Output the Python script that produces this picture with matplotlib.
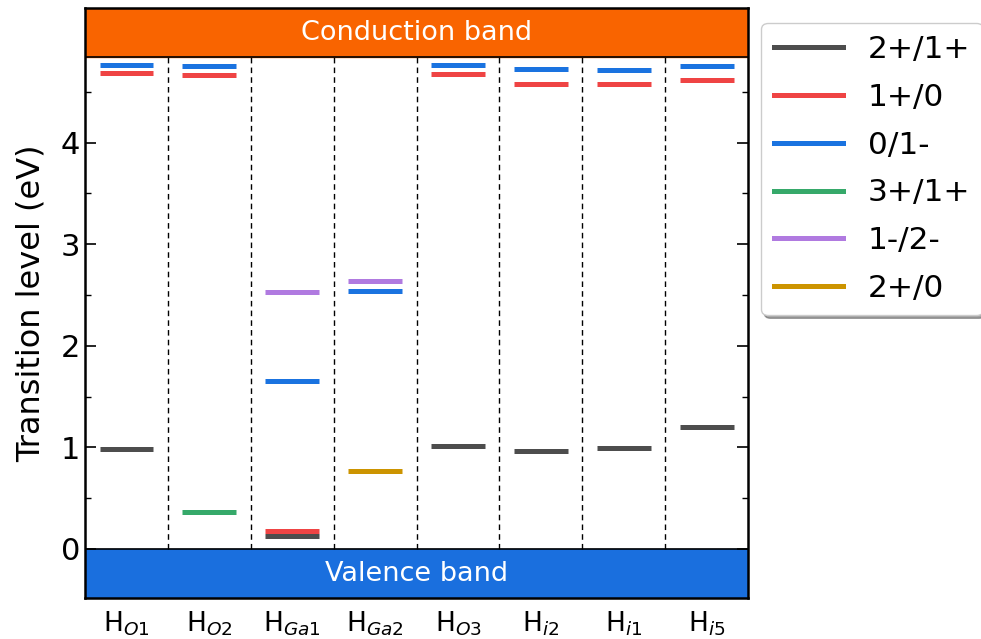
import matplotlib
matplotlib.use("Agg")
import matplotlib.pyplot as plt
from matplotlib.ticker import FixedLocator
from matplotlib.lines import Line2D

# Band gap (eV)
band_gap = 4.84

defects = [r"H$_{O1}$", r"H$_{O2}$", r"H$_{Ga1}$", r"H$_{Ga2}$",
           r"H$_{O3}$", r"H$_{i2}$", r"H$_{i1}$", r"H$_{i5}$"]

# Transition levels per charge transition (None = not present)
lvl_2p_1p = [0.98, None, 0.13, None, 1.01, 0.96, 0.99, 1.20]
lvl_1p_0 = [4.68, 4.66, 0.18, None, 4.67, 4.58, 4.58, 4.62]
lvl_0_1m = [4.76, 4.75, 1.65, 2.54, 4.76, 4.72, 4.71, 4.75]
lvl_3p_1p = [None, 0.36, None, None, None, None, None, None]
lvl_1m_2m = [None, None, 2.53, 2.64, None, None, None, None]
lvl_2p_0 = [None, None, None, 0.765, None, None, None, None]

series = [
    ("2+/1+", lvl_2p_1p, "#4d4d4d"),
    ("1+/0", lvl_1p_0, "#ef4444"),
    ("0/1-", lvl_0_1m, "#1a73e0"),
    ("3+/1+", lvl_3p_1p, "#36a96a"),
    ("1-/2-", lvl_1m_2m, "#b07ae0"),
    ("2+/0", lvl_2p_0, "#cc9400"),
]

y_major = [0, 1, 2, 3, 4]
y_minor = [0.5, 1.5, 2.5, 3.5, 4.5]

fig = plt.figure(figsize=(9.81, 6.39), dpi=100)
ax = fig.add_axes([0.0867, 0.064, 0.6758, 0.9235])

ymin, ymax = -0.1 * band_gap, 1.1 * band_gap
n = len(defects)
ax.set_xlim(0, n)
ax.set_ylim(ymin, ymax)

# Bands
ax.axhspan(band_gap, ymax, color="#f96400", zorder=1)
ax.axhspan(ymin, 0, color="#1a6fde", zorder=1)
ax.axhline(band_gap, color="black", lw=1.2, zorder=2)
ax.axhline(0, color="black", lw=1.2, zorder=2)
ax.text(n / 2, (band_gap + ymax) / 2, "Conduction band", color="white",
        fontsize=19.5, ha="center", va="center", zorder=3)
ax.text(n / 2, ymin / 2, "Valence band", color="white",
        fontsize=19.5, ha="center", va="center", zorder=3)

# Column separators
for i in range(1, n):
    ax.plot([i, i], [0, band_gap], ls=(0, (4, 3)), color="black", lw=1.0, zorder=2)

half = 0.325
handles = []
for label, vals, color in series:
    for i, v in enumerate(vals):
        if v is None:
            continue
        ax.plot([i + 0.5 - half, i + 0.5 + half], [v, v], color=color,
                lw=3.6, solid_capstyle="butt", zorder=4)
    handles.append(Line2D([], [], color=color, lw=3.6, label=label))

ax.set_xticks([i + 0.5 for i in range(n)])
ax.set_xticklabels(defects, fontsize=19)
ax.tick_params(axis="x", length=0, pad=8)

ax.yaxis.set_major_locator(FixedLocator(y_major))
ax.yaxis.set_minor_locator(FixedLocator(y_minor))
ax.tick_params(axis="y", which="major", direction="in", length=8, width=1.2,
               labelsize=22, right=True)
ax.tick_params(axis="y", which="minor", direction="in", length=4, width=1.0,
               right=True)
ax.set_ylabel("Transition level (eV)", fontsize=23, labelpad=10)

for s in ax.spines.values():
    s.set_linewidth(1.8)

ax.legend(handles=handles, loc="upper left", bbox_to_anchor=(1.02, 0.975),
          fontsize=22.5, frameon=True, shadow=True, fancybox=True,
          handlelength=2.2, borderaxespad=0, labelspacing=0.6)

fig.savefig("out.png", dpi=100)
